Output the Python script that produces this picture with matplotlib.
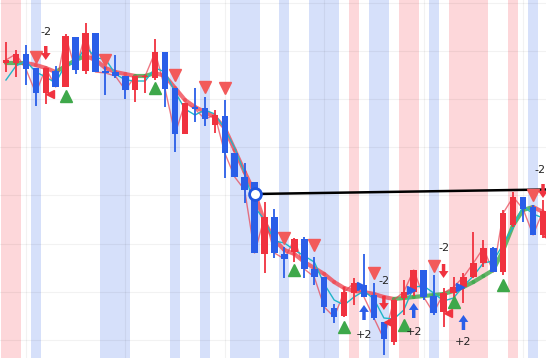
import numpy as np
import matplotlib
matplotlib.use('Agg')
import matplotlib.pyplot as plt
from matplotlib.collections import LineCollection

# 캔들 데이터 (가격 단위는 임의)
opens  = [295, 295, 304, 290, 265, 287, 271, 321, 287, 325, 287, 286, 282, 268, 281, 280, 306, 270, 224, 251,
          250, 233, 242, 205, 181, 176, 104, 141, 104, 106, 119, 89, 81, 50, 42, 65, 73, 63, 36, 16,
          60, 66, 88, 62, 46, 65, 71, 81, 95, 110, 86, 133, 161, 151, 123]
closes = [298, 304, 289, 265, 290, 271, 322, 288, 325, 286, 285, 282, 268, 282, 282, 306, 269, 224, 255, 249,
          239, 243, 205, 181, 168, 105, 141, 105, 99, 119, 89, 81, 51, 41, 66, 75, 61, 40, 19, 58,
          66, 88, 61, 45, 65, 71, 81, 95, 110, 86, 145, 161, 149, 123, 147]
highs  = [316, 308, 313, 290, 290, 292, 324, 321, 335, 325, 292, 303, 282, 282, 283, 319, 306, 270, 255, 270,
          261, 248, 258, 205, 195, 176, 156, 149, 111, 120, 121, 101, 81, 54, 71, 80, 104, 75, 36, 58,
          78, 88, 88, 83, 70, 81, 85, 126, 118, 111, 148, 166, 161, 153, 158]
lows   = [286, 281, 273, 252, 254, 271, 271, 284, 284, 286, 263, 280, 259, 256, 265, 278, 251, 206, 224, 236,
          232, 225, 180, 181, 155, 105, 85, 100, 80, 96, 80, 73, 45, 35, 41, 53, 61, 38, 3, 13,
          43, 62, 58, 43, 31, 58, 55, 80, 91, 86, 83, 131, 136, 123, 120]

# 이동평균선 (굵은선: 상승 녹색 / 하락 빨강)
ma_long = [295, 295, 295, 293, 290, 286, 292, 298, 302, 298, 290, 286, 284, 282, 282, 285, 282, 270, 258, 251,
           246, 241, 230, 208, 186, 165, 136, 118, 108, 104, 96, 90, 84, 76, 70, 67, 66, 64, 61, 59,
           60, 61, 62, 63, 64, 67, 71, 76, 82, 88, 108, 133, 148, 151, 146]
ma_short = [278, 292, 297, 286, 281, 275, 294, 294, 312, 300, 299, 284, 278, 277, 277, 290, 286, 266, 249, 243,
            248, 244, 229, 210, 185, 151, 138, 117, 115, 108, 102, 96, 74, 58, 53, 61, 67, 59, 40, 39,
            48, 71, 72, 65, 57, 60, 72, 82, 95, 97, 114, 131, 152, 144, 140]

# 배경 구간 (캔들 인덱스 시작, 끝)
pink_zones = [(0, 1), (35, 35), (40, 41), (45, 48), (51, 51)]
blue_zones = [(3, 3), (10, 12), (17, 17), (20, 20), (23, 25), (28, 28), (31, 33), (37, 38), (43, 43), (53, 53)]

# 신호
sell_tri = [(3, 301), (10, 298), (17, 283), (20, 271), (22, 270), (28, 120), (31, 113), (37, 85), (43, 92), (53, 163)]
buy_tri = [(6, 262), (15, 270), (29, 88), (34, 31), (40, 33), (45, 56), (50, 73)]
sell_arrow = [(4, 312, 298, 326), (38, 62, 48, 77), (44, 94, 80, 110), (54, 174, 160, 188)]
buy_arrow = [(36, 38, 53, 23), (41, 40, 55, 26), (46, 28, 43, 16)]
red_left = [(4, 264), (38, 36), (44, 45), (54, 122)]
blue_right = [(36, 72), (41, 68), (46, 71)]

# 추세선
trend_x = [25, 54.3]
trend_y = [164, 168.5]

RED = '#f0323f'
BLUE = '#2a5ee8'
GREEN = '#3ea84a'
X_MAX = 54.3

fig = plt.figure(figsize=(5.46, 3.58), dpi=100)
ax = fig.add_axes([0, 0, 1, 1])
n = len(closes)
x = np.arange(n)

for a, b in pink_zones:
    ax.axvspan(a - 0.5, b + 0.5, color='#fdd7da', lw=0, zorder=0)
for a, b in blue_zones:
    ax.axvspan(a - 0.5, b + 0.5, color='#d6e0fa', lw=0, zorder=0)

# 격자
for gx in range(2, n, 10):
    ax.axvline(gx, color='#000000', alpha=0.05, lw=0.8, zorder=0.5)
for gy in np.arange(18, 358, 48.2):
    ax.axhline(gy, color='#000000', alpha=0.05, lw=0.8, zorder=0.5)

# 이평선
pts = np.column_stack([x, ma_long])
segs = np.stack([pts[:-1], pts[1:]], axis=1)
seg_colors = [GREEN if ma_long[i + 1] >= ma_long[i] else '#f04a55' for i in range(n - 1)]
ax.add_collection(LineCollection(segs, colors=seg_colors, linewidths=3.0, alpha=0.8,
                                 capstyle='round', zorder=2))
ax.plot(x, ma_short, color='#1fb5c8', lw=1.0, zorder=2.2)
ax.plot(x, closes, color='#e8404f', lw=1.0, alpha=0.7, zorder=2.1)

# 캔들
for i in range(n):
    c = RED if closes[i] >= opens[i] else BLUE
    ax.vlines(i, lows[i], highs[i], color=c, lw=1.3, zorder=3)
    lo, hi = min(opens[i], closes[i]), max(opens[i], closes[i])
    ax.bar(i, max(hi - lo, 1.5), bottom=lo, width=0.65, color=c, lw=0, zorder=3.1)

# 추세선
ax.plot(trend_x, trend_y, color='black', lw=1.8, zorder=4)
ax.plot(trend_x[0], trend_y[0], 'o', ms=8.5, mfc='white', mec='#1f55e0', mew=2, zorder=5)

# 신호 마커
ax.plot([s[0] for s in sell_tri], [s[1] for s in sell_tri], 'v', color='#f25a5a', ms=8, zorder=5)
ax.plot([s[0] for s in buy_tri], [s[1] for s in buy_tri], '^', color=GREEN, ms=8, zorder=5)
ax.plot([s[0] + 0.4 for s in red_left], [s[1] for s in red_left], '<', color=RED, ms=6, zorder=5)
ax.plot([s[0] - 0.3 for s in blue_right], [s[1] for s in blue_right], '>', color=BLUE, ms=6, zorder=5)

style = 'simple,head_width=0.7,head_length=0.5,tail_width=0.25'
for i, tail, tip, lab in sell_arrow:
    ax.annotate('', xy=(i, tip), xytext=(i, tail),
                arrowprops=dict(arrowstyle=style, color=RED, lw=0, mutation_scale=10,
                                shrinkA=0, shrinkB=0), zorder=6)
    tx = min(i, X_MAX - 0.6)
    ax.text(tx, lab, '-2', ha='center', va='center', fontsize=8, color='#222222', zorder=6)
for i, tail, tip, lab in buy_arrow:
    ax.annotate('', xy=(i, tip), xytext=(i, tail),
                arrowprops=dict(arrowstyle=style, color=BLUE, lw=0, mutation_scale=10,
                                shrinkA=0, shrinkB=0), zorder=6)
    ax.text(i, lab, '+2', ha='center', va='center', fontsize=8, color='#222222', zorder=6)

ax.set_xlim(-0.6, X_MAX)
ax.set_ylim(0, 358)
ax.axis('off')

fig.savefig('out.png', dpi=100)
